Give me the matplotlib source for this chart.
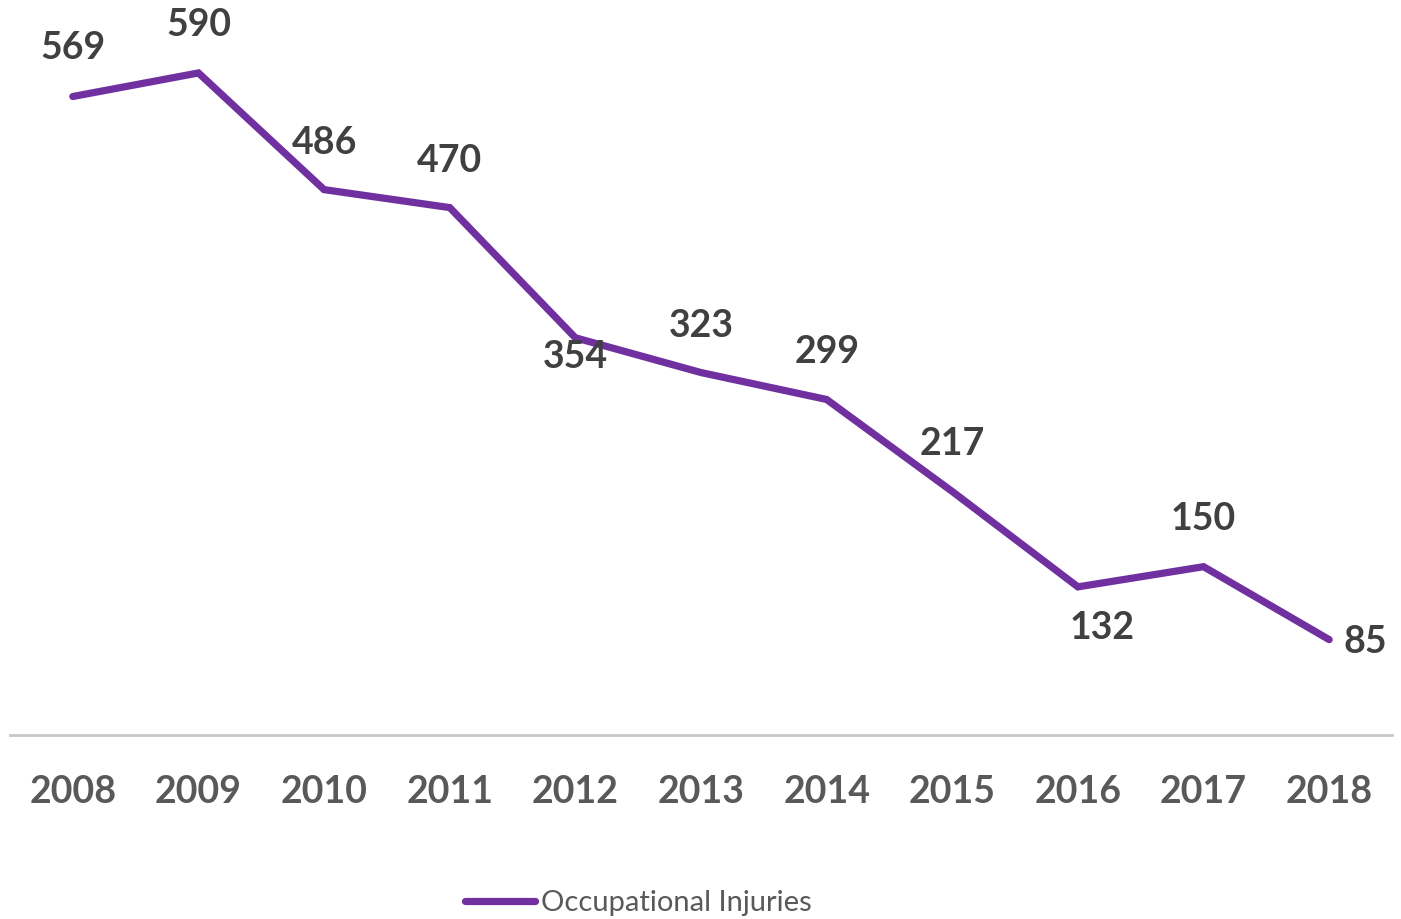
import matplotlib
matplotlib.use("Agg")
import matplotlib.pyplot as plt

# data
years = ["2008", "2009", "2010", "2011", "2012", "2013", "2014", "2015", "2016", "2017", "2018"]
injuries = [569, 590, 486, 470, 354, 323, 299, 217, 132, 150, 85]

# label offsets (pixels) for each point
label_offsets = [(0, 49), (0, 48), (0, 47), (0, 47), (0, -19), (0, 47), (0, 47), (0, 47), (24, -41), (0, 48), (36, -2)]

plt.rcParams["font.family"] = ["Lato", "DejaVu Sans"]

fig = plt.figure(figsize=(14.01, 9.19), dpi=100)
ax = fig.add_axes([10 / 1401, 1 - 735 / 919, 1382 / 1401, 735 / 919])

x = list(range(len(years)))
ax.plot(x, injuries, color="#7030A0", linewidth=5.2, solid_capstyle="round",
        solid_joinstyle="miter", label="Occupational Injuries")

for xi, v, (dx, dy) in zip(x, injuries, label_offsets):
    ax.annotate(str(v), (xi, v), xytext=(dx, dy), textcoords="offset pixels",
                ha="center", va="center", fontsize=27, fontweight="bold", color="#404040")

ax.set_xlim(-0.5, len(years) - 0.5)
ax.set_ylim(0, 655)
ax.set_xticks(x)
ax.set_xticklabels(years, fontsize=27, fontweight="bold", color="#595959")
ax.set_yticks([])
ax.tick_params(axis="x", length=0, pad=29)

for s in ["top", "left", "right"]:
    ax.spines[s].set_visible(False)
ax.spines["bottom"].set_color("#c8c8c8")
ax.spines["bottom"].set_linewidth(2)

leg = fig.legend(loc="center", bbox_to_anchor=(638 / 1401, 1 - 903 / 919), frameon=False,
                 fontsize=21, handlelength=2.4, handletextpad=0.2)
for t in leg.get_texts():
    t.set_color("#595959")

fig.savefig("out.png", dpi=100)
